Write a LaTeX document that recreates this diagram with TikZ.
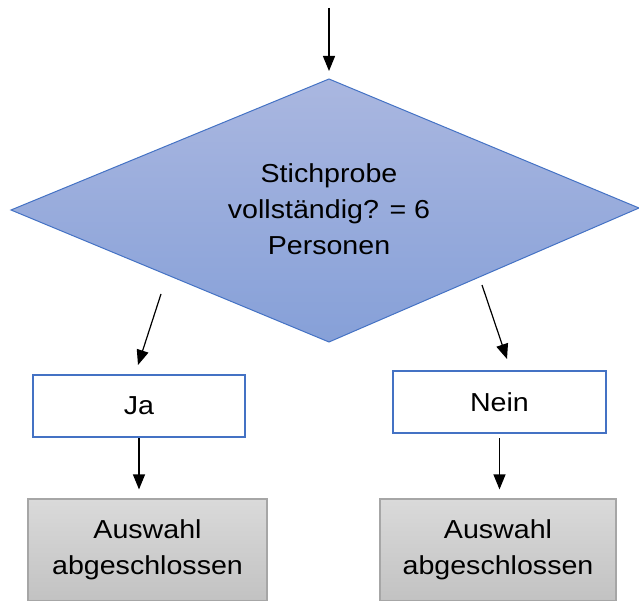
\documentclass[tikz,border=0pt]{standalone}
\usepackage{fontspec}
\setmainfont{Liberation Sans}[FakeStretch=1.1]
\usetikzlibrary{arrows.meta,calc}
\definecolor{dblue}{HTML}{4472C4}
\definecolor{dtop}{RGB}{170,183,224}
\definecolor{dbot}{RGB}{134,160,216}
\definecolor{gtop}{RGB}{218,218,218}
\definecolor{gbot}{RGB}{194,194,194}
\definecolor{gline}{RGB}{166,166,166}
\begin{document}
\begin{tikzpicture}[x=1pt,y=-1pt,
  arr/.style={-{Triangle[length=15pt,width=12pt]}, line width=1.2pt, black},
  txt/.style={font=\fontsize{26}{36}\selectfont, align=center},
  optbox/.style={draw=dblue, line width=2pt, fill=white, minimum width=212pt, minimum height=62pt, inner sep=0pt},
  endbox/.style={draw=gline, line width=1.2pt, top color=gtop, bottom color=gbot, minimum height=102pt, inner sep=0pt}]
\useasboundingbox (0,0) rectangle (639,601);
\clip (0,0) rectangle (639,601);
% decision
\path[draw=dblue, line width=1pt, top color=dtop, bottom color=dbot]
  (329,79) coordinate (dt) -- (639,208) coordinate (dr) -- (329,342) coordinate (db) -- (11,210) coordinate (dl) -- cycle;
\node[txt] (q) at (329,209) {Stichprobe\\vollständig? = 6\\Personen};
% boxes
\node[optbox, txt] (ja) at (139,406) {Ja};
\node[optbox, txt, minimum width=213pt] (nein) at (499.5,402) {Nein};
\node[endbox, txt, minimum width=239pt] (g1) at (147.5,550) {Auswahl\\abgeschlossen};
\node[endbox, txt, minimum width=236pt] (g2) at (498,550) {Auswahl\\abgeschlossen};
% connectors
\coordinate (start) at (329,8);
\draw[arr, shorten >=8pt] (start) -- (dt);
\coordinate (ls) at (161,294);
\coordinate (le) at (138,365);
\draw[arr] (ls) -- (le);
\coordinate (rs) at (482,285);
\coordinate (re) at (507,359);
\draw[arr] (rs) -- (re);
\draw[arr, shorten >=9pt] (ja.south) -- (ja.south |- g1.north);
\draw[arr, shorten <=4pt, shorten >=9pt] (nein.south) -- (nein.south |- g2.north);
\end{tikzpicture}
\end{document}
